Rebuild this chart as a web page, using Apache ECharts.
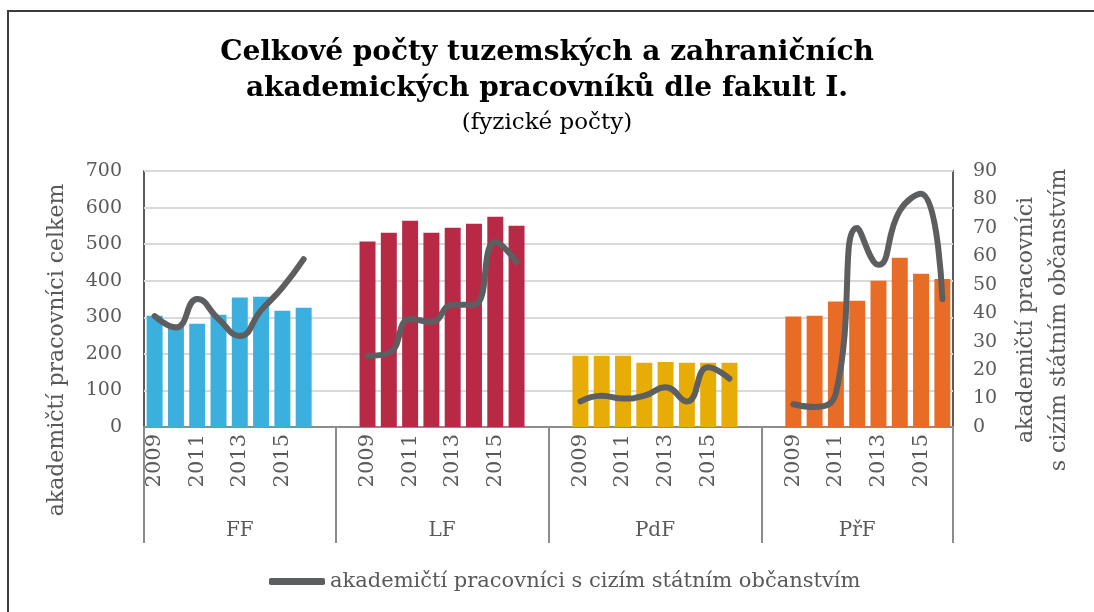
<!DOCTYPE html>
<html>
<head>
<meta charset="utf-8">
<script src="https://cdn.jsdelivr.net/npm/echarts@6/dist/echarts.min.js"></script>
<style>
  html, body { margin: 0; padding: 0; background: #fff; }
  #chart { width: 1094px; height: 612px; }
</style>
</head>
<body>
<div id="chart"></div>
<script>
// --- data ---
const years = ['2009', '2010', '2011', '2012', '2013', '2014', '2015', '2016']
const faculties = ['FF', 'LF', 'PdF', 'PřF']
// empty slots before / after each faculty block
const leadSlots = [0, 1, 1, 1]
const trailSlots = [1, 1, 1, 0]

const ffTotal = [304, 280, 282, 307, 354, 356, 318, 326]
const lfTotal = [507, 531, 564, 531, 545, 556, 575, 550]
const pdfTotal = [195, 195, 195, 176, 178, 176, 176, 176]
const prfTotal = [302, 304, 343, 345, 400, 463, 419, 405]

const ffForeign = [39, 35, 45, 38, 32, 41, 49, 59]
const lfForeign = [25, 26, 38, 37, 43, 43, 65, 58]
const pdfForeign = [9, 11, 10, 11, 14, 9, 21, 17]
const prfForeign = [8, 7, 12, 70, 57, 76, 82, 45]

const leftTicks = [0, 100, 200, 300, 400, 500, 600, 700]
const rightTicks = [0, 10, 20, 30, 40, 50, 60, 70, 80, 90]

const totals = [ffTotal, lfTotal, pdfTotal, prfTotal]
const foreign = [ffForeign, lfForeign, pdfForeign, prfForeign]
const barColors = ['#3bb0df', '#b82945', '#e7ad06', '#e96c26']
const lineName = 'akademičtí pracovníci s cizím státním občanstvím'
const font = 'DejaVu Serif'

// build the flat category list with blank slots between faculties
const categories = []
const barSeriesData = faculties.map(() => [])
const lineData = []
const groupEdges = [0]
const groupCenters = []
faculties.forEach((fac, g) => {
  const start = categories.length
  const push = (key, gi, val, fval) => {
    categories.push(fac + '|' + key)
    barSeriesData.forEach((arr, k) => arr.push(k === gi ? val : null))
    lineData.push(fval)
  }
  for (let i = 0; i < leadSlots[g]; i++) push('lead' + i, -1, null, null)
  years.forEach((y, i) => push(y, g, totals[g][i], foreign[g][i]))
  for (let i = 0; i < trailSlots[g]; i++) push('trail' + i, -1, null, null)
  groupEdges.push(categories.length)
  groupCenters.push((start + categories.length) / 2)
})
const slotCount = categories.length

const chart = echarts.init(document.getElementById('chart'))

const option = {
  animation: false,
  textStyle: { fontFamily: font },
  title: {
    text: 'Celkové počty tuzemských a zahraničních\nakademických pracovníků dle fakult I.',
    subtext: '(fyzické počty)',
    left: 'center',
    top: 30,
    itemGap: 5,
    textStyle: { fontFamily: font, fontSize: 28, fontWeight: 'bold', color: '#000', lineHeight: 36 },
    subtextStyle: { fontFamily: font, fontSize: 23, color: '#000' }
  },
  graphic: [{
    type: 'rect',
    silent: true,
    shape: { x: 8, y: 11, width: 1200, height: 800 },
    style: { fill: 'none', stroke: '#3c3c3c', lineWidth: 2 }
  }],
  legend: {
    data: [lineName],
    left: 264,
    top: 566,
    icon: 'roundRect',
    itemWidth: 56,
    itemHeight: 7,
    textStyle: { fontFamily: font, fontSize: 21, color: '#595959' }
  },
  grid: {
    left: 144,
    right: 141,
    top: 171,
    bottom: 185,
    show: true,
    borderColor: '#262626',
    borderWidth: 1.5
  },
  xAxis: [
    {
      type: 'category',
      data: categories,
      axisLine: { lineStyle: { color: '#8c8c8c', width: 2 } },
      axisTick: { show: false },
      axisLabel: {
        interval: 1,
        rotate: 90,
        margin: 7,
        fontSize: 21,
        color: '#595959',
        fontFamily: font,
        formatter: v => {
          const y = v.split('|')[1]
          return years.indexOf(y) >= 0 ? y : ''
        }
      }
    },
    {
      type: 'value',
      position: 'bottom',
      min: 0,
      max: slotCount,
      axisLine: { show: false },
      splitLine: { show: false },
      axisTick: {
        show: true,
        customValues: groupEdges,
        length: 116,
        lineStyle: { color: '#8c8c8c', width: 2 }
      },
      axisLabel: {
        customValues: groupCenters,
        margin: 94,
        fontSize: 20,
        color: '#595959',
        fontFamily: font,
        formatter: v => faculties[groupCenters.indexOf(v)] || ''
      }
    }
  ],
  yAxis: [
    {
      type: 'value',
      min: leftTicks[0],
      max: leftTicks[leftTicks.length - 1],
      interval: leftTicks[1] - leftTicks[0],
      name: 'akademičtí pracovníci celkem',
      nameLocation: 'middle',
      nameGap: 76,
      nameTextStyle: { fontFamily: font, fontSize: 22, color: '#595959', padding: [0, 102, 0, 0] },
      axisLine: { show: false },
      axisTick: { show: false },
      splitLine: { lineStyle: { color: '#d9d9d9', width: 2 } },
      axisLabel: { fontSize: 19, color: '#595959', margin: 22, fontFamily: font }
    },
    {
      type: 'value',
      position: 'right',
      min: rightTicks[0],
      max: rightTicks[rightTicks.length - 1],
      interval: rightTicks[1] - rightTicks[0],
      name: 'akademičtí pracovníci\ns cizím státním občanstvím',
      nameLocation: 'middle',
      nameGap: 57,
      nameTextStyle: { fontFamily: font, fontSize: 22, color: '#595959', lineHeight: 33, padding: [0, 42, 0, 0] },
      axisLine: { show: false },
      axisTick: { show: false },
      splitLine: { show: false },
      axisLabel: { fontSize: 19, color: '#595959', margin: 20, fontFamily: font }
    }
  ],
  series: [
    ...faculties.map((fac, g) => ({
      name: fac,
      type: 'bar',
      stack: 'total',
      barCategoryGap: '25%',
      data: barSeriesData[g],
      itemStyle: { color: barColors[g] }
    })),
    {
      name: lineName,
      type: 'line',
      yAxisIndex: 1,
      data: lineData,
      smooth: 0.5,
      symbol: 'none',
      z: 5,
      lineStyle: { color: '#5d5e60', width: 6, cap: 'round' },
      itemStyle: { color: '#5d5e60' }
    }
  ]
}

chart.setOption(option)
</script>
</body>
</html>
